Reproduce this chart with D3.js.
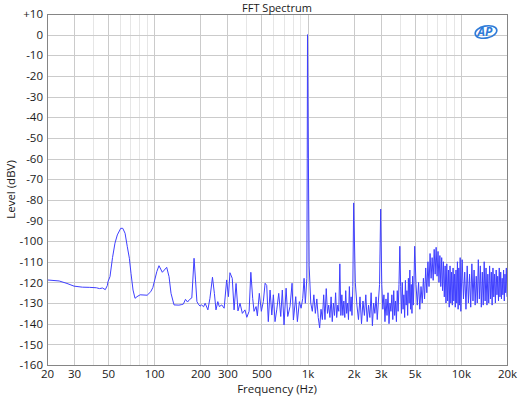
<!DOCTYPE html>
<html>
<head>
<meta charset="utf-8">
<script src="https://cdn.jsdelivr.net/npm/d3@7"></script>
<style>
    body { margin: 0; background: #fff; }
    text { font-family: "Open Sans", "DejaVu Sans", sans-serif; }
</style>
</head>
<body>
<div id="chart"></div>
<script>

// low end of the spectrum, read point by point (Hz / dBV)
var lowFreq = [20, 24, 27, 30, 34, 38, 42, 44, 46, 48, 49.5, 50, 51.5, 53.5, 55.5, 57.5, 60.5, 62.4, 64.6, 66.8,
    68.9, 70.6, 72.8, 75, 77.3, 81, 90, 95, 98, 104, 107.5, 113, 120.7, 125, 128.8, 134.7, 145, 150, 155, 160,
    165, 170, 176, 182, 186, 190, 194, 199, 204, 210, 215, 224, 231, 240, 247, 253, 260, 266, 276, 286];
var lowLevel = [-118.8, -119.3, -120.5, -121.8, -122.3, -122.4, -122.6, -123.0, -122.7, -123.5, -121.5, -119.6, -117.2, -108, -101, -97, -93.8, -93.8, -96.2, -102.7,
    -108.3, -115.6, -123.7, -127.7, -126.9, -126, -126.2, -124.5, -122.5, -114.8, -111.9, -115.1, -112.7, -117.2, -125.3, -130.9, -131, -130.8, -130.5, -128.2,
    -129.5, -128.3, -127.5, -108.3, -118.8, -129.3, -130.5, -131.5, -130.9, -131.8, -130.1, -133.3, -127.7, -117.5, -125.3, -133.3, -129.3, -131.7, -130.9, -132.5];

// 300 Hz .. just below the fundamental
var midFreq = [297, 305, 312, 323, 332, 342, 352, 363, 376, 391, 402, 416, 427, 439, 448, 462, 471, 485, 500, 515,
    529, 542, 555, 570, 585, 599, 614, 630, 649, 669, 685, 703, 725, 743, 769, 793, 809, 838, 859, 885,
    908, 931, 950, 968, 990, 996];
var midLevel = [-118.8, -126.9, -115.3, -118, -133.3, -120.5, -133.8, -130.1, -135, -133.3, -136.9, -134, -115.1, -127.7, -134, -131.7, -136.2, -125.3, -134, -129.3,
    -120.4, -121.5, -139, -123.7, -135.8, -126, -139, -133.3, -125.3, -136.5, -123.7, -140.6, -122.8, -136.5, -131.7, -120.4, -138.2, -126.9, -139, -129.3,
    -132.5, -127.7, -118, -130.1, -118, -60];

// FFT bins above 1 kHz: start frequency, bin step, levels
var binStart = [1000, 2000, 5000, 10000];
var binStep = [25, 50, 100, 200];

var levels1k = [0, -112, -130, -134, -126, -135, -128, -137, -142, -133,
    -138, -126, -138, -123, -135, -131, -137, -127, -139, -130,
    -136, -125, -137, -131, -134, -111, -136, -126, -136, -129,
    -137, -124, -135, -130, -138, -122, -134, -127, -136, -122];
var levels2k = [-81.5, -120, -131, -138, -127, -140, -129, -136, -126, -139,
    -131, -137, -125, -141, -130, -135, -127, -138, -129, -121,
    -84.5, -121, -133, -126, -139, -128, -136, -125, -140, -130,
    -134, -126, -138, -124, -136, -129, -139, -124, -134, -121,
    -102.5, -122, -135, -120, -133, -126, -137, -119, -131, -124,
    -136, -118, -130, -114, -133, -121, -135, -117, -131, -120];
var levels5k = [-102.5, -121, -131, -120, -133, -122, -130, -118, -128, -113,
    -125, -110, -122, -106, -118, -108, -119, -104, -116, -103,
    -117, -105, -120, -107, -122, -108, -124, -110, -127, -112,
    -130, -111, -129, -114, -132, -112, -130, -115, -131, -113,
    -129, -116, -132, -114, -130, -110, -133, -113, -131, -108];
var levels10k = [-134, -109, -128, -115, -133, -112, -130, -116, -132, -111,
    -129, -114, -131, -117, -130, -109, -128, -112, -132, -115,
    -131, -110, -129, -113, -131, -116, -130, -112, -128, -115,
    -131, -113, -127, -116, -130, -114, -126, -117, -129, -113,
    -127, -115, -128, -118, -126, -114, -129, -116, -125, -113,
    -127];

var majorTicks = [20, 30, 50, 100, 200, 300, 500, 1000, 2000, 3000, 5000, 10000, 20000];
var minorTicks = [40, 60, 70, 80, 90, 400, 600, 700, 800, 900, 4000, 6000, 7000, 8000, 9000];
var tickLabels = ["20", "30", "50", "100", "200", "300", "500", "1k", "2k", "3k", "5k", "10k", "20k"];
var levelTicks = [-160, -150, -140, -130, -120, -110, -100, -90, -80, -70, -60, -50, -40, -30, -20, -10, 0, 10];

var totalWidth = 520, totalHeight = 397;
var margin = {top: 14, right: 13, bottom: 32, left: 47};
var width = totalWidth - margin.left - margin.right;
var height = totalHeight - margin.top - margin.bottom;

// assemble the trace
var spectrum = [];
lowFreq.forEach(function(f, i) { spectrum.push({f: f, db: lowLevel[i]}); });
midFreq.forEach(function(f, i) { spectrum.push({f: f, db: midLevel[i]}); });
[levels1k, levels2k, levels5k, levels10k].forEach(function(list, s) {
    list.forEach(function(db, k) {
        spectrum.push({f: binStart[s] + k * binStep[s], db: db});
    });
});

var svg = d3.select("#chart").append("svg")
    .attr("width", totalWidth)
    .attr("height", totalHeight);

var plot = svg.append("g")
    .attr("transform", "translate(" + margin.left + "," + margin.top + ")");

var xa = d3.scaleLog()
    .domain([20, 20000])
    .range([0, width]);

var ya = d3.scaleLinear()
    .domain([-160, 10])
    .range([height, 0]);

function px(v) { return Math.round(v) + 0.5; }

//grid
plot.selectAll(".minor")
    .data(minorTicks)
    .enter().append("line")
    .attr("class", "minor")
    .attr("x1", function(d) { return px(xa(d)); })
    .attr("x2", function(d) { return px(xa(d)); })
    .attr("y1", 0).attr("y2", height)
    .attr("stroke", "#e6e6e6");

plot.selectAll(".major")
    .data(majorTicks)
    .enter().append("line")
    .attr("class", "major")
    .attr("x1", function(d) { return px(xa(d)); })
    .attr("x2", function(d) { return px(xa(d)); })
    .attr("y1", 0).attr("y2", height)
    .attr("stroke", "#cbcbcb");

plot.selectAll(".hgrid")
    .data(levelTicks)
    .enter().append("line")
    .attr("class", "hgrid")
    .attr("x1", 0).attr("x2", width)
    .attr("y1", function(d) { return px(ya(d)); })
    .attr("y2", function(d) { return px(ya(d)); })
    .attr("stroke", "#cbcbcb");

//trace
var line = d3.line()
    .x(function(d) { return xa(d.f); })
    .y(function(d) { return ya(d.db); });

plot.append("path")
    .datum(spectrum)
    .attr("fill", "none")
    .attr("stroke", "#3f3fff")
    .attr("stroke-width", 1)
    .attr("stroke-linejoin", "round")
    .attr("d", line);

//frame
plot.append("rect")
    .attr("x", 0.5).attr("y", 0.5)
    .attr("width", width).attr("height", height)
    .attr("fill", "none")
    .attr("stroke", "#858585");

//axes
var xAxis = d3.axisBottom(xa)
    .tickValues(majorTicks)
    .tickSize(0)
    .tickPadding(5)
    .tickFormat(function(d, i) { return tickLabels[i]; });

var yAxis = d3.axisLeft(ya)
    .tickValues(levelTicks)
    .tickSize(0)
    .tickPadding(4)
    .tickFormat(function(d) { return d > 0 ? "+" + d : d; });

var gx = plot.append("g")
    .attr("transform", "translate(0," + height + ")")
    .call(xAxis);
var gy = plot.append("g").call(yAxis);

[gx, gy].forEach(function(g) {
    g.select(".domain").remove();
    g.selectAll("text")
        .style("font-family", "'Open Sans', sans-serif")
        .style("font-size", "11.5px")
        .attr("fill", "#1a1a1a");
});

//titles
svg.append("text")
    .attr("x", margin.left + width / 2)
    .attr("y", 12)
    .style("text-anchor", "middle")
    .style("font-size", "11px")
    .attr("fill", "#1a1a1a")
    .text("FFT Spectrum");

svg.append("text")
    .attr("x", margin.left + width / 2)
    .attr("y", 393)
    .style("text-anchor", "middle")
    .style("font-size", "11.5px")
    .attr("fill", "#1a1a1a")
    .text("Frequency (Hz)");

svg.append("text")
    .attr("transform", "translate(15," + (margin.top + height / 2) + ") rotate(-90)")
    .style("text-anchor", "middle")
    .style("font-size", "11.5px")
    .attr("fill", "#1a1a1a")
    .text("Level (dBV)");

//AP logo
var logo = svg.append("g")
    .attr("transform", "translate(486,32)");
logo.append("ellipse")
    .attr("rx", 11).attr("ry", 6)
    .attr("transform", "rotate(-12)")
    .attr("fill", "none")
    .attr("stroke", "#2f7bd8")
    .attr("stroke-width", 1.6);
logo.append("text")
    .attr("x", -1).attr("y", 4)
    .style("text-anchor", "middle")
    .style("font-size", "12px")
    .style("font-weight", "bold")
    .style("font-style", "italic")
    .attr("fill", "#2f7bd8")
    .text("AP");

</script>
</body>
</html>
